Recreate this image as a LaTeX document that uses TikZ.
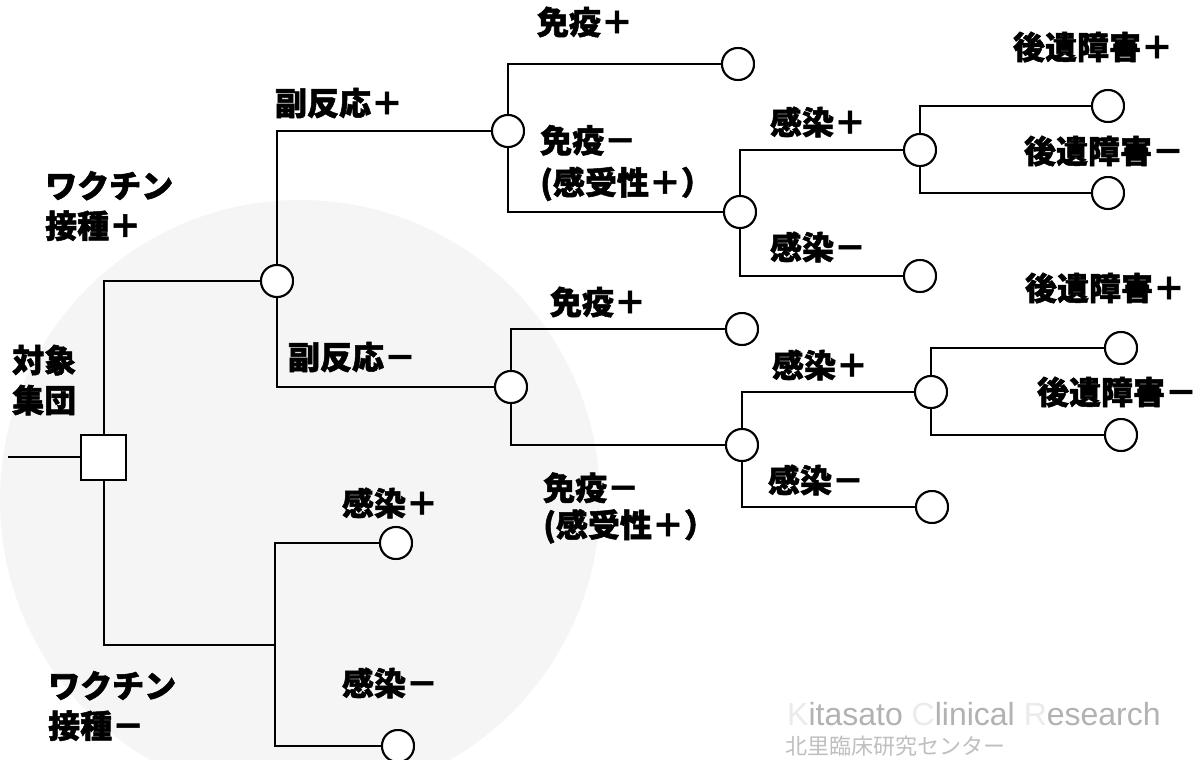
\documentclass[tikz,border=0pt]{standalone}
\usepackage{fontspec}
\newfontfamily\jp{Noto Sans CJK JP}[BoldFeatures={FakeBold=1.6}]
\newfontfamily\lat{Liberation Sans}
\tikzset{
  x=1pt, y=-1pt,
  edge/.style={line width=2pt, line join=miter},
  chance/.style={circle, draw, line width=2pt, minimum size=32pt, inner sep=0pt, fill=white},
  leaf/.style={circle, draw, line width=2pt, minimum size=32pt, inner sep=0pt, fill=white},
  decision/.style={rectangle, draw, line width=2pt, minimum size=43pt, inner sep=0pt, fill=white},
  lbl/.style={font=\jp\bfseries\fontsize{32}{40}\selectfont, inner sep=0pt, align=left},
  wm/.style={font=\lat\fontsize{32}{34}\selectfont, text=black!30, inner sep=0pt, anchor=west}
}
\begin{document}
\begin{tikzpicture}
\useasboundingbox (0,0) rectangle (1203,760);
\fill[white] (0,0) rectangle (1203,760);
\begin{scope}
\clip (0,0) rectangle (1203,760);
\fill[black!4] (300,500) circle (300);
\node[wm] (wm1) at (787,714) {\textcolor{black!8}{K}itasato\ \textcolor{black!8}{C}linical\ \textcolor{black!8}{R}esearch};
\node[font=\jp\fontsize{22}{24}\selectfont, text=black!25, anchor=west, inner sep=0pt] (wm2) at (785,746) {北里臨床研究センター};
\end{scope}

% nodes
\coordinate (s) at (8,457);
\node[decision] (root) at (103.5,457) {};
\node[chance] (c1) at (277,281) {};
\node[chance] (c2) at (508,131) {};
\node[chance] (c3) at (511,387) {};
\node[leaf]   (l1) at (738,64) {};
\node[chance] (c4) at (740,212) {};
\node[chance] (c5) at (920,150) {};
\node[leaf]   (l2) at (920,276) {};
\node[leaf]   (l3) at (1108,106) {};
\node[leaf]   (l4) at (1108,193) {};
\node[leaf]   (l5) at (742,329) {};
\node[chance] (c6) at (742,445) {};
\node[chance] (c7) at (931,392) {};
\node[leaf]   (l6) at (932,507) {};
\node[leaf]   (l7) at (1121,348) {};
\node[leaf]   (l8) at (1121,435) {};
\coordinate (j) at (275,645);
\node[leaf]   (l9) at (396,543) {};
\node[leaf]   (l10) at (398,746) {};

% edges
\draw[edge] (s) -- (root.west);
\draw[edge] (root.north) |- (c1.west);
\draw[edge] (c1.north) |- (c2.west);
\draw[edge] (c1.south) |- (c3.west);
\draw[edge] (c2.north) |- (l1.west);
\draw[edge] (c2.south) |- (c4.west);
\draw[edge] (c4.north) |- (c5.west);
\draw[edge] (c4.south) |- (l2.west);
\draw[edge] (c5.north) |- (l3.west);
\draw[edge] (c5.south) |- (l4.west);
\draw[edge] (c3.north) |- (l5.west);
\draw[edge] (c3.south) |- (c6.west);
\draw[edge] (c6.north) |- (c7.west);
\draw[edge] (c6.south) |- (l6.west);
\draw[edge] (c7.north) |- (l7.west);
\draw[edge] (c7.south) |- (l8.west);
\draw[edge] (root.south) |- (j);
\draw[edge] (j) |- (l9.west);
\draw[edge] (j) |- (l10.west);

% redraw circles above lines
\foreach \n in {c1,c2,c3,c4,c5,c6,c7,l1,l2,l3,l4,l5,l6,l7,l8,l9,l10}{
  \draw[line width=2pt, fill=white] (\n) circle (16);
}
\draw[line width=2pt, fill=white] (root.south west) rectangle (root.north east);

% labels
\node[lbl, anchor=west] (t1) at (45,206) {ワクチン\\接種＋};
\node[lbl, anchor=west] (t2) at (12,380) {対象\\集団};
\node[lbl, anchor=west] (t3) at (48,706) {ワクチン\\接種－};
\node[lbl] (t4) at (339,103) {副反応＋};
\node[lbl] (t5) at (352,357) {副反応－};
\node[lbl] (t6) at (585,22) {免疫＋};
\node[lbl, anchor=west, font=\jp\bfseries\fontsize{32}{42}\selectfont] (t7) at (540,163) {免疫－\\(感受性＋）};
\node[lbl] (t8) at (598,302) {免疫＋};
\node[lbl, anchor=west, font=\jp\bfseries\fontsize{32}{37}\selectfont] (t9) at (543,508) {免疫－\\(感受性＋）};
\node[lbl] (t10) at (818,122) {感染＋};
\node[lbl] (t11) at (818,247) {感染－};
\node[lbl] (t12) at (820,365) {感染＋};
\node[lbl] (t13) at (816,480) {感染－};
\node[lbl] (t14) at (1093,47) {後遺障害＋};
\node[lbl] (t15) at (1104,151) {後遺障害－};
\node[lbl] (t16) at (1105,288) {後遺障害＋};
\node[lbl] (t17) at (1117,392) {後遺障害－};
\node[lbl] (t18) at (390,503) {感染＋};
\node[lbl] (t19) at (390,683) {感染－};
\end{tikzpicture}
\end{document}
